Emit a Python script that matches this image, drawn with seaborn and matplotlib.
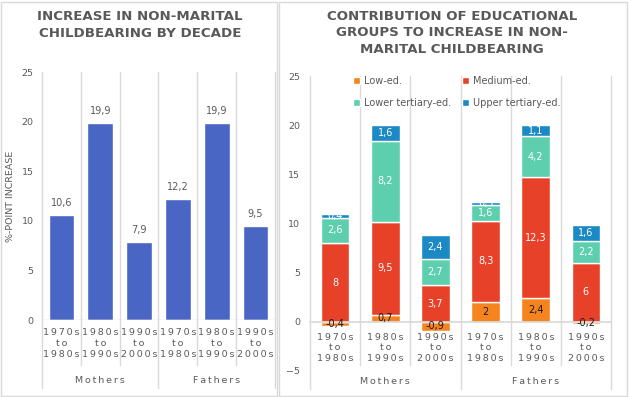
import matplotlib
matplotlib.use("Agg")
import matplotlib.pyplot as plt
import seaborn as sns
import numpy as np
from matplotlib.patches import Rectangle

# data
keys = ["M70", "M80", "M90", "F70", "F80", "F90"]
periods = [("1970s", "1980s"), ("1980s", "1990s"), ("1990s", "2000s")] * 2
groups = ["Mothers", "Fathers"]
total = [10.6, 19.9, 7.9, 12.2, 19.9, 9.5]
low_ed = [-0.4, 0.7, -0.9, 2.0, 2.4, -0.2]
medium_ed = [8.0, 9.5, 3.7, 8.3, 12.3, 6.0]
lower_tert = [2.6, 8.2, 2.7, 1.6, 4.2, 2.2]
upper_tert = [0.4, 1.6, 2.4, 0.3, 1.1, 1.6]

series = [("Low-ed.", low_ed, "#F5841F", "#1a1a1a"),
          ("Medium-ed.", medium_ed, "#E8412A", "white"),
          ("Lower tertiary-ed.", lower_tert, "#5DCFAE", "white"),
          ("Upper tertiary-ed.", upper_tert, "#1B8AC4", "white")]

GRAY = "#595959"
LINE = "#D9D9D9"


def spaced(s):
    # Excel-style letter spacing with thin spaces
    return "\u2009".join(s)


period_labels = [f"{spaced(a)}\n{spaced('to')}\n{spaced(b)}" for a, b in periods]


def fmt(v):
    return f"{v:g}".replace(".", ",")


sns.set_theme(style="white")
plt.rcParams["font.family"] = ["DejaVu Sans"]

fig = plt.figure(figsize=(6.29, 3.97), dpi=100)
W, H = 629, 397


def px_axes(l, r, top, bottom):
    return fig.add_axes([l / W, 1 - bottom / H, (r - l) / W, (bottom - top) / H])


# panel borders
fig.patches.append(Rectangle((1 / W, 1 / H), 276 / W, 394 / H, transform=fig.transFigure,
                             fill=False, edgecolor=LINE, lw=1))
fig.patches.append(Rectangle((279 / W, 1 / H), 348 / W, 394 / H, transform=fig.transFigure,
                             fill=False, edgecolor=LINE, lw=1))


def dividers(ax, cat_bottom, grp_bottom):
    tr = ax.get_xaxis_transform()
    for x in np.arange(-0.5, 6, 1):
        yb = grp_bottom if x in (-0.5, 2.5, 5.5) else cat_bottom
        ax.plot([x, x], [1, yb], transform=tr, color=LINE, lw=1, clip_on=False, zorder=0)


def style_axis(ax):
    for s in ax.spines.values():
        s.set_visible(False)
    ax.tick_params(axis="both", length=0, colors=GRAY, labelsize=6.8)
    ax.set_xlabel("")
    ax.set_facecolor("none")


# ---- left chart ----
ax1 = px_axes(42, 275, 72, 320)
sns.barplot(x=keys, y=total, color="#4A66C4", width=0.66, saturation=1, ax=ax1)
ax1.bar_label(ax1.containers[0], labels=[fmt(v) for v in total], padding=5,
              color=GRAY, fontsize=7)
ax1.set_ylim(0, 25)
ax1.set_xlim(-0.5, 5.5)
ax1.set_yticks([0, 5, 10, 15, 20, 25])
ax1.set_xticks(range(6))
ax1.set_xticklabels(period_labels, linespacing=1.25)
style_axis(ax1)
ax1.tick_params(axis="x", pad=6)
ax1.tick_params(axis="y", pad=6)
ax1.axhline(0, color=LINE, lw=1)
ax1.set_ylabel("%-POINT INCREASE", color=GRAY, fontsize=6.8, labelpad=5)
dividers(ax1, -0.18, -0.275)
for i, g in enumerate(groups):
    ax1.text(1 + 3 * i, -0.245, spaced(g), transform=ax1.get_xaxis_transform(),
             ha="center", va="center", color=GRAY, fontsize=6.8)
fig.text(140 / W, 1 - 25 / H, "INCREASE IN NON-MARITAL\nCHILDBEARING BY DECADE",
         ha="center", va="center", fontsize=9.6, fontweight="bold", color=GRAY,
         linespacing=1.35)

# ---- right chart ----
ax2 = px_axes(310, 611, 76, 371)
pos_base = np.zeros(6)
neg_base = np.zeros(6)
handles = []
for name, vals, col, tcol in series:
    vals = np.array(vals)
    bottom = np.where(vals >= 0, pos_base, neg_base)
    sns.barplot(x=keys, y=vals, bottom=bottom, color=col, width=0.57,
                saturation=1, ax=ax2, label=name)
    cont = ax2.containers[-1]
    ax2.bar_label(cont, labels=[fmt(v) for v in vals], label_type="center",
                  color=tcol, fontsize=7)
    handles.append(cont)
    pos_base = pos_base + np.where(vals >= 0, vals, 0)
    neg_base = neg_base + np.where(vals < 0, vals, 0)

ax2.set_ylim(-5, 25)
ax2.set_xlim(-0.5, 5.5)
ax2.set_yticks([-5, 0, 5, 10, 15, 20, 25])
ax2.set_xticks(range(6))
ax2.set_xticklabels(period_labels, linespacing=1.25)
style_axis(ax2)
ax2.spines["bottom"].set_visible(True)
ax2.spines["bottom"].set_position(("data", 0))
ax2.spines["bottom"].set_color(LINE)
ax2.tick_params(axis="x", pad=8)
ax2.tick_params(axis="y", pad=7)
ax2.set_ylabel("")
dividers(ax2, 0.02, -0.06)
for i, g in enumerate(groups):
    ax2.text(1 + 3 * i, -0.037, spaced(g), transform=ax2.get_xaxis_transform(),
             ha="center", va="center", color=GRAY, fontsize=6.8)
order = [0, 2, 1, 3]
leg = ax2.legend([handles[i] for i in order], [series[i][0] for i in order],
                 ncol=2, loc="upper left", bbox_to_anchor=(0.115, 1.03), frameon=False,
                 fontsize=7, handlelength=0.7, handleheight=0.7, handletextpad=0.4,
                 columnspacing=1.1, labelspacing=1.2, labelcolor=GRAY)
fig.text(452 / W, 1 - 33 / H,
         "CONTRIBUTION OF EDUCATIONAL\nGROUPS TO INCREASE IN NON-\nMARITAL CHILDBEARING",
         ha="center", va="center", fontsize=9.6, fontweight="bold", color=GRAY,
         linespacing=1.35)

fig.savefig("out.png", dpi=100)
